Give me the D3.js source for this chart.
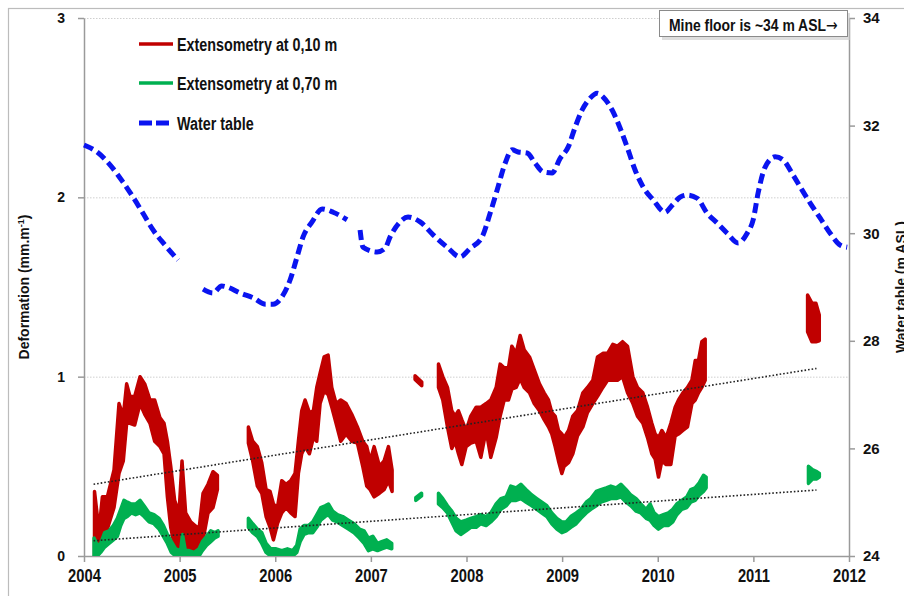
<!DOCTYPE html>
<html><head><meta charset="utf-8">
<script src="https://cdn.jsdelivr.net/npm/d3@7"></script>
<style>body{margin:0;background:#fff;} svg{display:block;}</style>
</head><body><svg id="c" width="904" height="596"></svg>
<script>
// ---------- data ----------
const years = [2004,2005,2006,2007,2008,2009,2010,2011,2012];
const leftTicks = [0,1,2,3];
const rightTicks = [24,26,28,30,32,34];
const seriesNames = ["Extensometry at 0,10 m","Extensometry at 0,70 m","Water table"];
// [decimal year, low, high] (mm/m) ; null = data gap
const red010 = [
[2004.110,0.00,0.36],[2004.157,0.05,0.14],[2004.192,0.09,0.33],[2004.244,0.15,0.33],[2004.314,0.27,0.48],
[2004.366,0.46,0.85],[2004.411,0.53,0.78],[2004.446,0.74,0.96],[2004.481,0.74,0.89],[2004.530,0.73,0.89],
[2004.586,0.85,1.00],[2004.635,0.79,0.96],[2004.690,0.74,0.87],[2004.739,0.64,0.87],[2004.795,0.61,0.77],
[2004.837,0.57,0.74],[2004.872,0.33,0.64],[2004.907,0.16,0.50],[2004.948,0.05,0.31],[2004.994,0.00,0.24],
[2005.025,0.02,0.53],[2005.063,0.00,0.24],[2005.116,0.00,0.19],[2005.161,0.00,0.17],[2005.203,0.02,0.15],
[2005.245,0.09,0.35],[2005.297,0.24,0.40],[2005.349,0.27,0.47],[2005.395,0.37,0.45],
null,
[2005.719,0.63,0.72],[2005.764,0.53,0.64],[2005.813,0.39,0.61],[2005.859,0.35,0.52],[2005.904,0.22,0.37],
[2005.946,0.16,0.36],[2005.981,0.09,0.29],[2006.023,0.18,0.27],[2006.068,0.24,0.42],[2006.113,0.27,0.40],
[2006.162,0.24,0.42],[2006.207,0.22,0.46],[2006.242,0.46,0.64],[2006.277,0.57,0.81],[2006.312,0.61,0.87],
[2006.357,0.57,0.80],[2006.399,0.66,0.81],[2006.434,0.64,0.94],[2006.469,0.85,1.02],[2006.511,0.92,1.11],
[2006.553,0.90,1.12],[2006.591,0.83,0.94],[2006.636,0.74,0.85],[2006.685,0.64,0.87],[2006.741,0.68,0.85],
[2006.800,0.64,0.79],[2006.859,0.63,0.72],[2006.915,0.50,0.64],[2006.957,0.39,0.61],[2006.992,0.37,0.53],
[2007.034,0.33,0.61],[2007.090,0.35,0.50],[2007.138,0.37,0.53],[2007.184,0.42,0.61],[2007.222,0.36,0.48],
null,
[2007.462,0.985,1.005],[2007.532,0.950,0.970],
null,
[2007.707,0.94,1.07],[2007.752,0.87,1.00],[2007.801,0.72,0.94],[2007.846,0.60,0.81],[2007.881,0.64,0.78],
[2007.916,0.57,0.81],[2007.951,0.51,0.76],[2007.996,0.61,0.70],[2008.045,0.63,0.78],[2008.101,0.64,0.83],
[2008.150,0.55,0.83],[2008.205,0.70,0.85],[2008.254,0.55,0.87],[2008.310,0.66,0.94],[2008.352,0.78,1.07],
[2008.394,0.87,1.05],[2008.439,0.87,1.05],[2008.474,0.93,1.17],[2008.519,0.94,1.13],[2008.561,0.99,1.23],
[2008.603,0.94,1.15],[2008.659,0.91,1.11],[2008.708,0.85,1.04],[2008.763,0.81,0.96],[2008.812,0.76,0.91],
[2008.857,0.72,0.87],[2008.892,0.68,0.80],[2008.927,0.61,0.78],[2008.962,0.53,0.70],[2008.997,0.46,0.68],
[2009.021,0.50,0.66],[2009.067,0.52,0.70],[2009.112,0.57,0.78],[2009.161,0.67,0.81],[2009.217,0.72,0.91],
[2009.265,0.80,0.94],[2009.321,0.85,0.98],[2009.370,0.89,1.11],[2009.426,0.94,1.13],[2009.475,0.98,1.13],
[2009.530,0.98,1.18],[2009.579,0.98,1.17],[2009.632,1.00,1.195],[2009.684,0.91,1.17],[2009.740,0.85,1.00],
[2009.788,0.78,0.94],[2009.844,0.74,0.91],[2009.893,0.66,0.83],[2009.938,0.57,0.74],[2009.973,0.54,0.68],
[2010.008,0.44,0.66],[2010.043,0.53,0.70],[2010.088,0.51,0.66],[2010.137,0.51,0.74],[2010.182,0.67,0.83],
[2010.217,0.68,0.87],[2010.263,0.70,0.91],[2010.311,0.72,0.94],[2010.357,0.85,0.98],[2010.392,0.87,1.09],
[2010.426,0.91,1.09],[2010.461,0.94,1.195],[2010.496,0.98,1.21],
null,
[2011.567,1.25,1.455],[2011.612,1.195,1.41],[2011.654,1.195,1.41],[2011.689,1.20,1.344]
];
const green070 = [
[2004.105,0.00,0.10],[2004.139,0.00,0.06],[2004.174,0.02,0.07],[2004.216,0.05,0.13],[2004.262,0.07,0.14],
[2004.307,0.09,0.17],[2004.349,0.11,0.21],[2004.384,0.17,0.26],[2004.418,0.21,0.31],[2004.453,0.22,0.30],
[2004.495,0.24,0.29],[2004.540,0.23,0.29],[2004.586,0.24,0.31],[2004.628,0.22,0.28],[2004.680,0.19,0.24],
[2004.732,0.18,0.23],[2004.785,0.15,0.21],[2004.830,0.11,0.17],[2004.872,0.07,0.12],[2004.914,0.02,0.08],
[2004.959,0.00,0.04],[2005.011,0.00,0.03],[2005.030,0.00,0.12],[2005.060,0.00,0.03],[2005.098,0.00,0.03],
[2005.151,0.00,0.02],[2005.203,0.00,0.04],[2005.238,0.03,0.08],[2005.283,0.06,0.11],[2005.325,0.08,0.14],
[2005.367,0.10,0.13],[2005.402,0.11,0.14],
null,
[2005.719,0.16,0.21],[2005.764,0.13,0.18],[2005.813,0.11,0.15],[2005.859,0.07,0.13],[2005.904,0.02,0.07],
[2005.953,0.00,0.04],[2006.009,0.00,0.04],[2006.068,0.00,0.03],[2006.127,0.00,0.04],[2006.183,0.00,0.03],
[2006.225,0.02,0.06],[2006.260,0.08,0.15],[2006.301,0.12,0.17],[2006.347,0.13,0.17],[2006.392,0.13,0.19],
[2006.434,0.16,0.23],[2006.476,0.20,0.27],[2006.521,0.22,0.28],[2006.556,0.23,0.29],[2006.601,0.20,0.25],
[2006.650,0.19,0.23],[2006.706,0.17,0.22],[2006.765,0.15,0.20],[2006.824,0.13,0.18],[2006.880,0.10,0.15],
[2006.929,0.07,0.14],[2006.974,0.03,0.10],[2007.020,0.04,0.11],[2007.069,0.03,0.07],[2007.114,0.04,0.08],
[2007.166,0.05,0.09],[2007.218,0.04,0.07],
null,
[2007.470,0.310,0.325],[2007.530,0.335,0.350],
null,
[2007.707,0.29,0.35],[2007.752,0.27,0.32],[2007.801,0.24,0.28],[2007.846,0.19,0.25],[2007.892,0.14,0.21],
[2007.940,0.12,0.19],[2007.996,0.14,0.20],[2008.045,0.16,0.21],[2008.101,0.16,0.22],[2008.150,0.18,0.23],
[2008.205,0.17,0.22],[2008.254,0.19,0.24],[2008.310,0.22,0.29],[2008.359,0.26,0.32],[2008.415,0.28,0.33],
[2008.463,0.31,0.39],[2008.519,0.31,0.38],[2008.568,0.32,0.40],[2008.624,0.30,0.37],[2008.683,0.28,0.34],
[2008.735,0.26,0.32],[2008.788,0.24,0.30],[2008.840,0.22,0.28],[2008.892,0.18,0.24],[2008.945,0.15,0.21],
[2008.997,0.13,0.19],[2009.042,0.14,0.19],[2009.091,0.16,0.22],[2009.147,0.18,0.24],[2009.196,0.21,0.26],
[2009.252,0.24,0.30],[2009.300,0.26,0.32],[2009.356,0.28,0.36],[2009.405,0.30,0.37],[2009.461,0.31,0.38],
[2009.509,0.32,0.39],[2009.565,0.32,0.38],[2009.614,0.33,0.40],[2009.670,0.30,0.37],[2009.719,0.28,0.34],
[2009.774,0.25,0.32],[2009.823,0.24,0.29],[2009.879,0.21,0.26],[2009.920,0.20,0.29],[2009.962,0.17,0.24],
[2010.007,0.15,0.22],[2010.059,0.17,0.23],[2010.112,0.17,0.24],[2010.157,0.19,0.26],[2010.199,0.23,0.29],
[2010.251,0.26,0.31],[2010.304,0.27,0.33],[2010.345,0.30,0.37],[2010.391,0.31,0.38],[2010.436,0.34,0.41],
[2010.478,0.36,0.45],[2010.506,0.38,0.44],
null,
[2011.576,0.405,0.50],[2011.621,0.43,0.48],[2011.663,0.43,0.47],[2011.690,0.44,0.46]
];
// linear trends [year, mm/m]
const redTrend = [[2004.10,0.400],[2011.66,1.046]];
const greenTrend = [[2004.10,0.085],[2011.66,0.368]];
// water table [year, m ASL]
const waterTable = [
[2004.000,31.64],[2004.136,31.51],[2004.272,31.27],[2004.408,30.95],[2004.513,30.67],[2004.617,30.37],
[2004.722,30.06],[2004.847,29.78],[2004.983,29.50],
null,
[2005.245,28.96],[2005.349,28.89],[2005.440,29.02],[2005.496,29.00],[2005.632,28.89],[2005.768,28.80],
[2005.900,28.68],[2005.977,28.68],[2006.082,28.85],[2006.155,29.13],[2006.228,29.56],[2006.291,29.93],
[2006.385,30.21],[2006.490,30.45],[2006.605,30.39],[2006.751,30.25],
null,
[2006.887,30.06],[2006.918,29.74],[2007.065,29.65],[2007.149,29.72],[2007.201,29.93],[2007.305,30.21],
[2007.389,30.30],[2007.515,30.21],[2007.651,29.97],[2007.797,29.74],[2007.933,29.56],[2008.038,29.72],
[2008.163,29.93],[2008.247,30.37],[2008.320,30.80],[2008.404,31.30],[2008.477,31.55],[2008.540,31.51],
[2008.634,31.49],[2008.718,31.30],[2008.801,31.14],[2008.895,31.12],[2008.979,31.39],[2009.063,31.60],
[2009.136,31.97],[2009.209,32.29],[2009.293,32.51],[2009.366,32.60],[2009.429,32.53],[2009.523,32.29],
[2009.607,31.95],[2009.680,31.60],[2009.764,31.17],[2009.847,30.86],[2009.952,30.62],[2010.077,30.39],
[2010.151,30.52],[2010.234,30.67],[2010.308,30.71],[2010.412,30.65],[2010.517,30.37],[2010.621,30.19],
[2010.726,30.00],[2010.841,29.82],[2010.935,30.00],[2010.998,30.25],[2011.050,30.75],[2011.123,31.23],
[2011.228,31.42],[2011.312,31.36],[2011.416,31.08],[2011.510,30.80],[2011.594,30.56],[2011.699,30.28],
[2011.803,30.00],[2011.908,29.78],[2011.981,29.74]
];
const annotation = "Mine floor is ~34 m ASL";
const annotationArrow = "\u2192";
const leftTitle = "Deformation (mm.m";
const rightTitle = "Water table (m ASL)";

// ---------- drawing ----------
const svg = d3.select("#c");
const L=84, R=849, T=18, B=556;
const x = d3.scaleLinear().domain([2004,2012]).range([L,R]);
const yL = d3.scaleLinear().domain([0,3]).range([B,T]);
const yR = d3.scaleLinear().domain([24,34]).range([B,T]);
const FONT = "'Liberation Sans', Arial, sans-serif";
const RED = "#c00000", GREEN = "#00b050", BLUE = "#0a14f0";
const SX = 0.82; // condensed text factor

svg.append("rect").attr("x",0).attr("y",0).attr("width",904).attr("height",596).attr("fill","#fff");
svg.append("rect").attr("x",8.5).attr("y",8.5).attr("width",1000).attr("height",1000)
  .attr("fill","none").attr("stroke","#bcbcbc").attr("stroke-width",1.2);

// gridlines
svg.append("g").selectAll("line").data(leftTicks.filter(d=>d>0)).join("line")
  .attr("x1",L).attr("x2",R).attr("y1",d=>yL(d)+0.5).attr("y2",d=>yL(d)+0.5)
  .attr("stroke","#cfcfcf").attr("stroke-width",1).attr("stroke-dasharray","1.5,1.5");

function styleAxis(g){
  g.select(".domain").attr("stroke","#9a9a9a").attr("stroke-width",1.5);
  g.selectAll(".tick line").attr("stroke","#9a9a9a").attr("stroke-width",1.5);
  g.selectAll("text").attr("fill","#111").attr("font-family",FONT).attr("font-weight","bold");
}
const gl = svg.append("g").attr("transform",`translate(${L},0)`)
  .call(d3.axisLeft(yL).tickValues(leftTicks).tickSize(6).tickSizeOuter(0).tickPadding(13).tickFormat(d3.format("d")));
styleAxis(gl); gl.selectAll("text").attr("font-size",14);
const gr = svg.append("g").attr("transform",`translate(${R},0)`)
  .call(d3.axisRight(yR).tickValues(rightTicks).tickSize(6).tickSizeOuter(0).tickPadding(8).tickFormat(d3.format("d")));
styleAxis(gr); gr.selectAll("text").attr("font-size",15);
const gb = svg.append("g").attr("transform",`translate(0,${B})`)
  .call(d3.axisBottom(x).tickValues(years).tickSize(6).tickSizeOuter(0).tickFormat(d3.format("d")));
styleAxis(gb);
gb.selectAll("text").attr("font-size",18).attr("y",26).attr("dy",0).attr("transform",`scale(${SX},1)`);

// axis titles
const lt = svg.append("text").attr("transform","translate(29,287) rotate(-90)")
  .attr("text-anchor","middle").attr("font-family",FONT).attr("font-weight","bold").attr("font-size",14).attr("fill","#111");
lt.append("tspan").text(leftTitle);
lt.append("tspan").attr("font-size",9).attr("dy",-5).text("-1");
lt.append("tspan").attr("dy",5).text(")");
svg.append("text").attr("transform","translate(906,287) rotate(-90)")
  .attr("text-anchor","middle").attr("font-family",FONT).attr("font-weight","bold").attr("font-size",14).attr("fill","#111")
  .text(rightTitle);

// clip
svg.append("clipPath").attr("id","clip").append("rect").attr("x",L).attr("y",T-10).attr("width",R-L).attr("height",B-T+10);
const plot = svg.append("g").attr("clip-path","url(#clip)");

const band = d3.area().defined(d=>d!==null).x(d=>x(d[0])).y0(d=>yL(d[1])).y1(d=>yL(d[2]));
plot.append("path").attr("d",band(red010)).attr("fill",RED).attr("stroke",RED).attr("stroke-width",3.5).attr("stroke-linejoin","round");
plot.append("path").attr("d",band(green070)).attr("fill",GREEN).attr("stroke",GREEN).attr("stroke-width",3.5).attr("stroke-linejoin","round");

const tl = d3.line().x(d=>x(d[0])).y(d=>yL(d[1]));
[redTrend,greenTrend].forEach(t=>{
  plot.append("path").attr("d",tl(t)).attr("fill","none").attr("stroke","#222").attr("stroke-width",1.6).attr("stroke-dasharray","1.6,2");
});

const wl = d3.line().defined(d=>d!==null).x(d=>x(d[0])).y(d=>yR(d[1])).curve(d3.curveMonotoneX);
svg.append("path").attr("d",wl(waterTable)).attr("fill","none").attr("stroke",BLUE).attr("stroke-width",5)
  .attr("stroke-dasharray","10,5");

// legend
const lg = svg.append("g");
const rows = [{y:44,c:RED,dash:null},{y:83,c:GREEN,dash:null},{y:123,c:BLUE,dash:"13,4"}];
rows.forEach((r,i)=>{
  lg.append("line").attr("x1",139).attr("x2",i===2?171:173).attr("y1",r.y).attr("y2",r.y)
    .attr("stroke",r.c).attr("stroke-width",i===2?5:3.5).attr("stroke-dasharray",r.dash);
  lg.append("text").attr("transform",`translate(177,${r.y+6.5}) scale(${SX},1)`)
    .attr("font-family",FONT).attr("font-weight","bold").attr("font-size",17.5).attr("fill","#111")
    .text(seriesNames[i]);
});

// annotation box
svg.append("rect").attr("x",662).attr("y",13).attr("width",188).attr("height",27).attr("fill","#c8c8c8").attr("opacity",0.6);
svg.append("rect").attr("x",659.5).attr("y",10.5).attr("width",188).attr("height",26).attr("fill","#fff").attr("stroke","#8a8a8a").attr("stroke-width",1);
const at = svg.append("text").attr("transform",`translate(669,31) scale(${SX},1)`)
  .attr("font-family",FONT).attr("font-weight","bold").attr("font-size",17).attr("fill","#111");
at.append("tspan").text(annotation);
at.append("tspan").attr("font-family","'DejaVu Sans', sans-serif").attr("font-weight","normal").attr("font-size",17).text(annotationArrow);
</script></body></html>
